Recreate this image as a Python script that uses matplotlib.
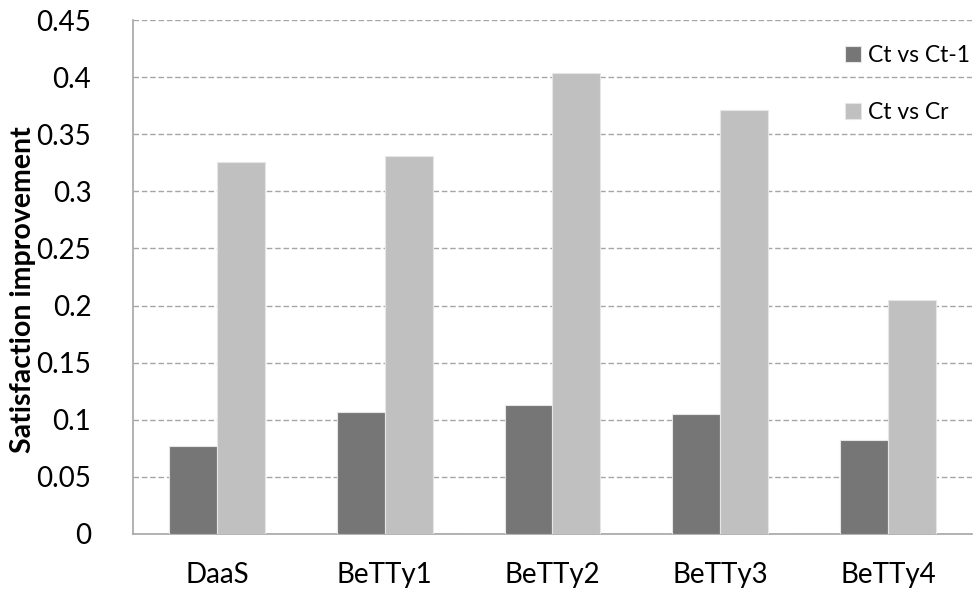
import matplotlib
matplotlib.use("Agg")
import matplotlib.pyplot as plt
import numpy as np

categories = ["DaaS", "BeTTy1", "BeTTy2", "BeTTy3", "BeTTy4"]
ct_vs_ct1 = [0.077, 0.107, 0.113, 0.105, 0.082]
ct_vs_cr = [0.326, 0.331, 0.404, 0.371, 0.205]
series_labels = ["Ct vs Ct-1", "Ct vs Cr"]
yticks = [0, 0.05, 0.1, 0.15, 0.2, 0.25, 0.3, 0.35, 0.4, 0.45]
ytick_labels = ["0", "0.05", "0.1", "0.15", "0.2", "0.25", "0.3", "0.35", "0.4", "0.45"]

plt.rcParams['font.family'] = ['Lato', 'DejaVu Sans']

fig = plt.figure(figsize=(9.77, 5.92), dpi=100)
ax = fig.add_axes([0.1361, 0.098, 0.8588, 0.8682])

x = np.arange(len(categories))
w = 0.285
dark = "#767676"
light = "#C0C0C0"
ax.bar(x - w / 2, ct_vs_ct1, w, color=dark, edgecolor="#E6E6E6", linewidth=0.8,
       label=series_labels[0], zorder=3)
ax.bar(x + w / 2, ct_vs_cr, w, color=light, edgecolor="#E6E6E6", linewidth=0.8,
       label=series_labels[1], zorder=3)

ax.set_xlim(-0.5, len(categories) - 0.5)
ax.set_ylim(0, 0.45)
ax.set_yticks(yticks)
ax.set_yticklabels(ytick_labels)
ax.set_xticks(x)
ax.set_xticklabels(categories)

for s in ["top", "right"]:
    ax.spines[s].set_visible(False)
for s in ["left", "bottom"]:
    ax.spines[s].set_color("#A6A6A6")
    ax.spines[s].set_linewidth(1.2)

ax.yaxis.grid(True, color="#A6A6A6", linestyle=(0, (4, 2)), linewidth=1.0, zorder=0)
ax.set_axisbelow(True)
ax.tick_params(axis="y", length=0, pad=30, labelsize=20)
ax.tick_params(axis="x", length=0, pad=20, labelsize=20)

ax.set_ylabel("Satisfaction improvement", fontsize=20.5, fontweight="bold")
ax.yaxis.set_label_coords(-0.116, 0.475)

ax.legend(loc="upper left", bbox_to_anchor=(0.8486, 0.951), frameon=False,
          fontsize=16.5, handlelength=0.7, handleheight=0.7, handletextpad=0.3,
          labelspacing=1.55, borderaxespad=0, borderpad=0)

fig.savefig("out.png", dpi=100)
